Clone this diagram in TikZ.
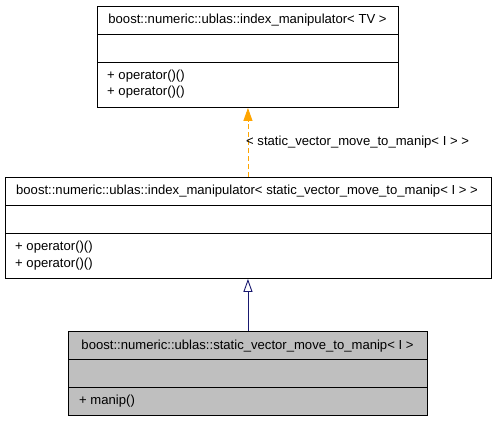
\documentclass[tikz,border=0pt]{standalone}
\usepackage{fontspec}
\setmainfont{Liberation Sans}
\usetikzlibrary{arrows.meta}
\definecolor{edgeorange}{HTML}{FFA500}
\definecolor{edgeblue}{HTML}{191970}
\definecolor{boxgray}{HTML}{BFBFBF}
\begin{document}
\begin{tikzpicture}[x=1pt,y=-1pt,
  classbox/.style={draw=black, line width=0.9pt, rectangle, anchor=north west, inner sep=0pt, fill=white},
  divider/.style={draw=black, line width=0.9pt},
  txt/.style={font=\fontsize{13.1}{15}\selectfont, inner sep=0pt},
  mem/.style={txt, anchor=west},
]
\useasboundingbox (0,0) rectangle (496,421);
% top box
\node[classbox, minimum width=301pt, minimum height=101pt] (top) at (97,6) {};
\draw[divider] (97,34) -- (398,34);
\draw[divider] (97,62) -- (398,62);
\node[txt] (toptitle) at (247.5,20) {boost::numeric::ublas::index\_manipulator< TV >};
\node[mem] (topm1) at (107,76) {+ operator()()};
\node[mem] (topm2) at (107,92) {+ operator()()};
% middle box
\node[classbox, minimum width=486pt, minimum height=101pt] (mid) at (5,177) {};
\draw[divider] (5,205) -- (491,205);
\draw[divider] (5,233) -- (491,233);
\node[txt] (midtitle) at (247,191) {boost::numeric::ublas::index\_manipulator< static\_vector\_move\_to\_manip< I > >};
\node[mem] (midm1) at (15,247) {+ operator()()};
\node[mem] (midm2) at (15,264) {+ operator()()};
% bottom box
\node[classbox, fill=boxgray, minimum width=359pt, minimum height=84pt] (bot) at (68,331) {};
\draw[divider] (68,359) -- (427,359);
\draw[divider] (68,387) -- (427,387);
\node[txt] (bottitle) at (247.5,346) {boost::numeric::ublas::static\_vector\_move\_to\_manip< I >};
\node[mem] (botm1) at (79,401) {+ manip()};
% edges
\draw[edgeorange, line width=0.9pt, dash pattern=on 5pt off 3pt, -{Triangle[length=13pt,width=9pt,fill=edgeorange]}]
  (mid.north -| top.south) -- (top.south);
\node[txt, anchor=west] (lbl) at (246,142) {< static\_vector\_move\_to\_manip< I > >};
\draw[edgeblue, line width=0.9pt, -{Triangle[open,length=13pt,width=9pt,fill=white]}]
  (bot.north) -- (bot.north |- mid.south);
\end{tikzpicture}
\end{document}
